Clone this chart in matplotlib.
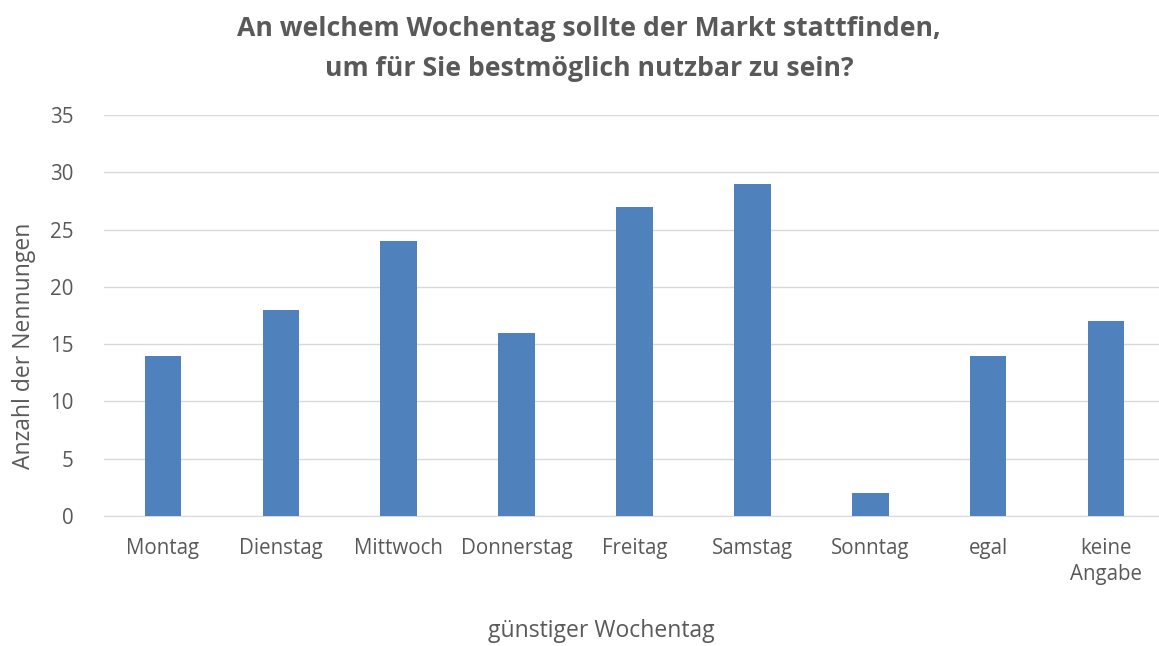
import matplotlib
matplotlib.use("Agg")
import matplotlib.pyplot as plt

categories = ["Montag", "Dienstag", "Mittwoch", "Donnerstag", "Freitag",
              "Samstag", "Sonntag", "egal", "keine\nAngabe"]
values = [14, 18, 24, 16, 27, 29, 2, 14, 17]
yticks = [0, 5, 10, 15, 20, 25, 30, 35]

plt.rcParams['font.family'] = ['Open Sans', 'DejaVu Sans']
W, H = 1159, 646
fig = plt.figure(figsize=(W / 100, H / 100), dpi=100)
left, right, bottom, top = 104, 1165, 516, 115
ax = fig.add_axes([left / W, 1 - bottom / H, (right - left) / W, (bottom - top) / H])

x = range(len(categories))
ax.bar(x, values, width=0.31, color="#4F81BD", zorder=3)
ax.set_xlim(-0.5, len(categories) - 0.5)
ax.set_ylim(0, 35)
ax.set_yticks(yticks)
ax.set_xticks(list(x))
ax.set_xticklabels(categories, fontsize=14.8, color="#595959", va="top", linespacing=1.3)
ax.tick_params(axis="y", labelsize=14.8, colors="#595959", length=0, pad=22)
ax.tick_params(axis="x", length=0, pad=16)
ax.grid(axis="y", color="#D9D9D9", linewidth=1, zorder=0)
for s in ["top", "right", "left"]:
    ax.spines[s].set_visible(False)
ax.spines["bottom"].set_color("#D9D9D9")

fig.text(589 / W, 1 - 49 / H,
         "An welchem Wochentag sollte der Markt stattfinden,\num für Sie bestmöglich nutzbar zu sein?",
         ha="center", va="center", fontsize=19.2, fontweight="bold", color="#595959",
         linespacing=1.65)
fig.text(601 / W, 1 - 631 / H, "günstiger Wochentag", ha="center", va="center",
         fontsize=16.5, color="#595959")
fig.text(24 / W, 1 - 346 / H, "Anzahl der Nennungen", ha="center", va="center",
         rotation=90, fontsize=16.5, color="#595959")

fig.savefig("out.png", dpi=100)
